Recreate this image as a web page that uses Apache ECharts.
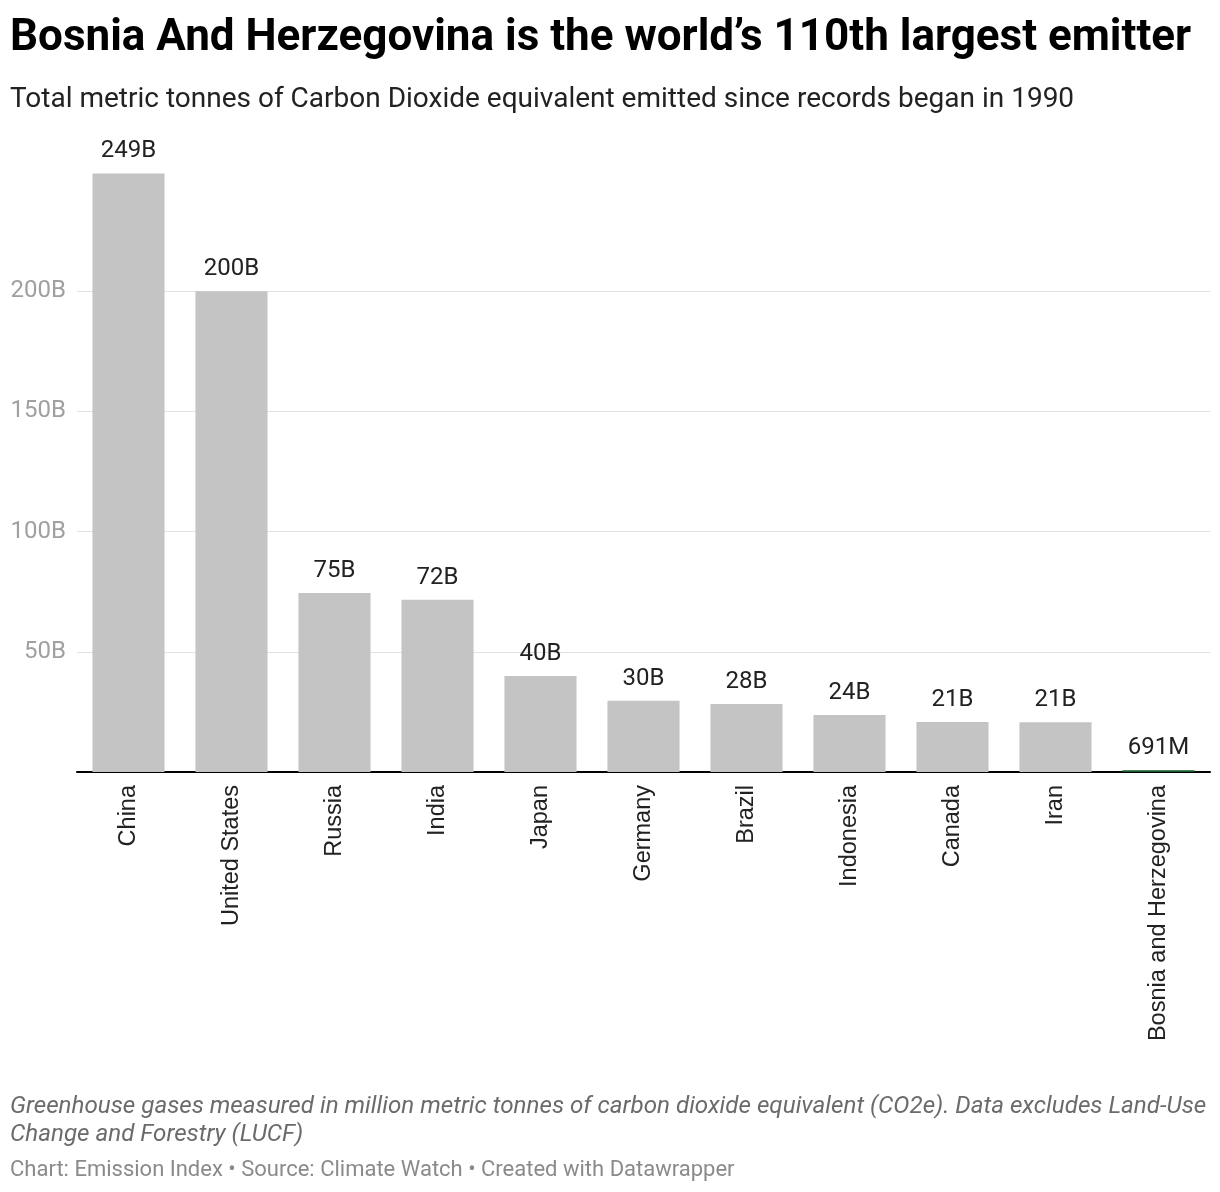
<!DOCTYPE html>
<html>
<head>
<meta charset="utf-8">
<script src="https://cdn.jsdelivr.net/npm/echarts@6/dist/echarts.min.js"></script>
<style>
  html, body { margin: 0; padding: 0; background: #fff; }
  #chart { width: 1220px; height: 1192px; }
</style>
</head>
<body>
<div id="chart"></div>
<script>
// emissions since 1990, billions of tonnes CO2e
const countries = ['China', 'United States', 'Russia', 'India', 'Japan', 'Germany', 'Brazil',
  'Indonesia', 'Canada', 'Iran', 'Bosnia and Herzegovina'];
const emissions = [249, 200, 74.5, 71.6, 39.9, 29.6, 28.3, 23.7, 20.8, 20.7, 0.691];
const highlight = 'Bosnia and Herzegovina';
const gridTicks = [50, 100, 150, 200];

const grey = '#c4c4c4';
const green = '#145a2b';

function fmtValue(v) {
  if (v >= 1) return Math.round(v) + 'B';
  return Math.round(v * 1000) + 'M';
}

const chart = echarts.init(document.getElementById('chart'), null, { renderer: 'canvas' });

chart.setOption({
  animation: false,
  textStyle: { fontFamily: 'Roboto' },
  title: [
    {
      text: 'Bosnia And Herzegovina is the world\u2019s 110th largest emitter',
      left: 10, top: 17, padding: 0,
      textStyle: { fontFamily: 'Roboto', fontSize: 44, fontWeight: 'bold', color: '#000' }
    },
    {
      text: 'Total metric tonnes of Carbon Dioxide equivalent emitted since records began in 1990',
      left: 10, top: 86, padding: 0,
      textStyle: { fontFamily: 'Roboto', fontSize: 28, fontWeight: 'normal', color: '#222' }
    },
    {
      text: 'Greenhouse gases measured in million metric tonnes of carbon dioxide equivalent (CO2e). Data excludes Land-Use\nChange and Forestry (LUCF)',
      left: 10, top: 1093, padding: 0,
      textStyle: { fontFamily: 'Roboto', fontSize: 24.2, fontStyle: 'italic', fontWeight: 'normal',
        color: '#6b6b6b', lineHeight: 28 }
    },
    {
      text: 'Chart: Emission Index \u2022 Source: Climate Watch \u2022 Created with Datawrapper',
      left: 10, top: 1159, padding: 0,
      textStyle: { fontFamily: 'Roboto', fontSize: 22, fontWeight: 'normal', color: '#8a8a8a' }
    }
  ],
  grid: { left: 77, right: 10, top: 171, height: 601, containLabel: false },
  xAxis: {
    type: 'category',
    data: countries,
    axisLine: { lineStyle: { color: '#000', width: 2 } },
    axisTick: { show: false },
    axisLabel: {
      rotate: 90, interval: 0, margin: 13,
      fontSize: 23.5, color: '#222', fontFamily: 'Liberation Sans'
    }
  },
  yAxis: {
    type: 'value',
    min: 0, max: 250, interval: 50,
    axisLine: { show: false },
    axisTick: { show: false },
    splitLine: { show: false },
    axisLabel: {
      margin: 11, fontSize: 24, color: '#a0a0a0', fontFamily: 'Roboto',
      formatter: v => (v === 0 || v === 250) ? '' : v + 'B'
    }
  },
  series: [{
    type: 'bar',
    barWidth: '70%',
    data: emissions.map((v, i) => ({
      value: v,
      itemStyle: { color: countries[i] === highlight ? green : grey }
    })),
    label: {
      show: true, position: 'top', distance: 10,
      fontSize: 24, color: '#222', fontFamily: 'Roboto',
      formatter: p => fmtValue(p.value)
    },
    markLine: {
      silent: true, symbol: 'none', z: 0,
      label: { show: false },
      lineStyle: { color: '#e2e2e2', width: 1, type: 'solid' },
      data: gridTicks.map(t => ({ yAxis: t }))
    },
    z: 2
  }]
});
</script>
</body>
</html>
